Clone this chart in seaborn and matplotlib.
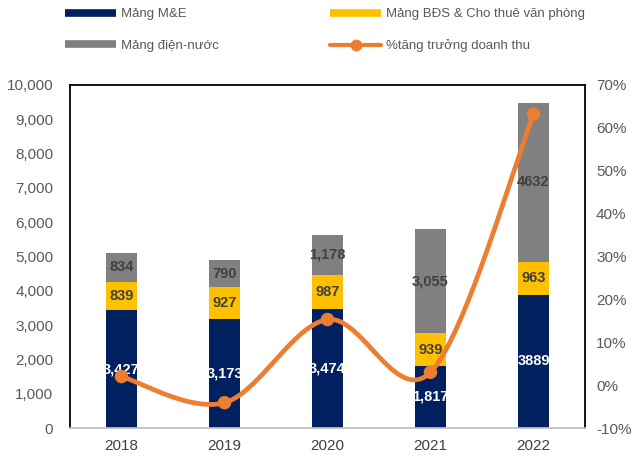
import numpy as np
import pandas as pd
import matplotlib
matplotlib.use("Agg")
import matplotlib.pyplot as plt
import seaborn as sns
from matplotlib.lines import Line2D
from matplotlib.ticker import FuncFormatter, MultipleLocator

# ---- data ----
years = ["2018", "2019", "2020", "2021", "2022"]
me = [3427, 3173, 3474, 1817, 3889]
bds = [839, 927, 987, 939, 963]
dien_nuoc = [834, 790, 1178, 3055, 4632]
growth = [2.0, -4.1, 15.3, 3.0, 63.2]
me_labels = ["3,427", "3,173", "3,474", "1,817", "3889"]
bds_labels = ["839", "927", "987", "939", "963"]
dn_labels = ["834", "790", "1,178", "3,055", "4632"]
series_names = ["Mảng M&E", "Mảng BĐS & Cho thuê văn phòng", "Mảng điện-nước", "%tăng trưởng doanh thu"]

NAVY = "#002060"
YELLOW = "#FFC000"
GRAY = "#808080"
ORANGE = "#ED7D31"
TXT = "#595959"

sns.set_theme(style="white")
plt.rcParams["font.family"] = ["Liberation Sans", "DejaVu Sans"]

df = pd.DataFrame({"year": years, "me": me, "bds": bds, "dn": dien_nuoc, "growth": growth})
df["lvl2"] = df["me"] + df["bds"]
df["total"] = df["lvl2"] + df["dn"]

fig = plt.figure(figsize=(6.35, 4.57), dpi=100)
ax = fig.add_axes([70 / 635, 1 - 428 / 457, 515 / 635, 343 / 457])

W = 0.31
sns.barplot(data=df, x="year", y="total", color=GRAY, width=W, saturation=1, ax=ax, linewidth=0)
sns.barplot(data=df, x="year", y="lvl2", color=YELLOW, width=W, saturation=1, ax=ax, linewidth=0)
sns.barplot(data=df, x="year", y="me", color=NAVY, width=W, saturation=1, ax=ax, linewidth=0)

ax.set_xlim(-0.5, 4.5)
ax.set_ylim(0, 10000)
ax.yaxis.set_major_locator(MultipleLocator(1000))
ax.yaxis.set_major_formatter(FuncFormatter(lambda v, p: f"{v:,.0f}"))
ax.set_xlabel("")
ax.set_ylabel("")
ax.tick_params(axis="both", length=0, labelsize=11, colors=TXT)
ax.tick_params(axis="x", colors="#404040", pad=8)
ax.tick_params(axis="y", pad=12)

for s in ["left", "top", "right"]:
    ax.spines[s].set_color("black")
    ax.spines[s].set_linewidth(1.3)
ax.spines["bottom"].set_color("#BFBFBF")
ax.spines["bottom"].set_linewidth(1.3)

# data labels
for i in range(len(years)):
    ax.text(i, me[i] / 2, me_labels[i], ha="center", va="center", color="white",
            fontsize=10.5, fontweight="bold", zorder=5)
    ax.text(i, me[i] + bds[i] / 2, bds_labels[i], ha="center", va="center", color="#404040",
            fontsize=10.5, fontweight="bold", zorder=5)
    ax.text(i, me[i] + bds[i] + dien_nuoc[i] / 2, dn_labels[i], ha="center", va="center",
            color="#404040", fontsize=10.5, fontweight="bold", zorder=5)

# secondary axis: smoothed growth line
ax2 = ax.twinx()
ax2.set_ylim(-10, 70)
ax2.yaxis.set_major_locator(MultipleLocator(10))
ax2.yaxis.set_major_formatter(FuncFormatter(lambda v, p: f"{v:.0f}%"))
ax2.tick_params(axis="y", length=0, labelsize=11, colors=TXT, pad=8)
for s in ax2.spines.values():
    s.set_visible(False)

xs = np.arange(len(years), dtype=float)
ys = np.array(growth, dtype=float)
px = np.concatenate([[xs[0]], xs, [xs[-1]]])
py = np.concatenate([[ys[0]], ys, [ys[-1]]])
cx, cy = [], []
t = np.linspace(0, 1, 40)
for k in range(1, len(px) - 2):
    p0 = np.array([px[k], py[k]])
    p3 = np.array([px[k + 1], py[k + 1]])
    p1 = p0 + (np.array([px[k + 1], py[k + 1]]) - np.array([px[k - 1], py[k - 1]])) / 6
    p2 = p3 - (np.array([px[k + 2], py[k + 2]]) - np.array([px[k], py[k]])) / 6
    b = ((1 - t) ** 3)[:, None] * p0 + (3 * (1 - t) ** 2 * t)[:, None] * p1 + \
        (3 * (1 - t) * t ** 2)[:, None] * p2 + (t ** 3)[:, None] * p3
    cx.extend(b[:, 0]); cy.extend(b[:, 1])
ax2.plot(cx, cy, color=ORANGE, lw=3.4, solid_capstyle="round", zorder=3)
sns.scatterplot(x=xs, y=ys, color=ORANGE, s=95, edgecolor="none", ax=ax2, zorder=4)

# legends
h_me = Line2D([0], [0], color=NAVY, lw=5.5, solid_capstyle="butt")
h_dn = Line2D([0], [0], color=GRAY, lw=5.5, solid_capstyle="butt")
h_bds = Line2D([0], [0], color=YELLOW, lw=5.5, solid_capstyle="butt")
h_gr = Line2D([0], [0], color=ORANGE, lw=3, marker="o", markersize=7.5)
common = dict(loc="upper left", frameon=False, fontsize=9.5, handlelength=3.9,
              handletextpad=0.38, labelspacing=1.45, borderpad=0, borderaxespad=0)
leg1 = fig.legend([h_me, h_dn], [series_names[0], series_names[2]],
                  bbox_to_anchor=(65 / 635, 1 - 8 / 457), **common)
for tx in leg1.get_texts():
    tx.set_color(TXT)
leg2 = fig.legend([h_bds, h_gr], [series_names[1], series_names[3]],
                  bbox_to_anchor=(330 / 635, 1 - 8 / 457), **common)
for tx in leg2.get_texts():
    tx.set_color(TXT)

fig.savefig("out.png", dpi=100)
